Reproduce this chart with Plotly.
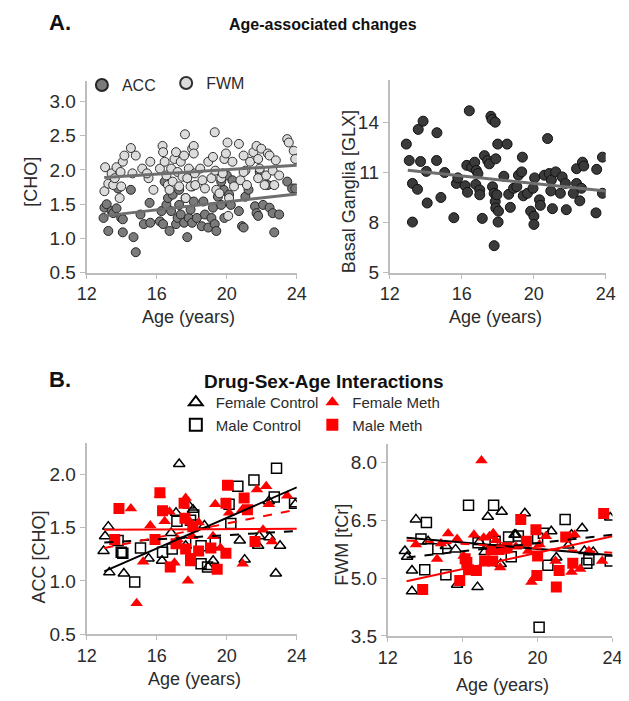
import plotly.graph_objects as go

# ---------------- Panel A (left): [CHO] vs age ----------------
acc_age = [12.96, 13.01, 13.14, 13.23, 13.42, 13.51, 13.7, 13.79, 13.97, 14.06, 14.06, 14.52, 14.67, 14.8,
           15.07, 15.26, 15.59, 15.63, 16.18, 16.27, 16.36, 16.45, 16.55, 16.64, 16.73, 16.82, 16.91, 17.1,
           17.19, 17.28, 17.37, 17.56, 17.65, 17.74, 17.83, 17.93, 18.02, 18.11, 18.29, 18.57, 18.66, 18.75,
           18.94, 19.12, 19.21, 19.31, 19.4, 19.49, 19.68, 19.82, 19.86, 20.0, 20.13, 20.23, 20.32, 20.69,
           20.87, 20.96, 21.06, 21.24, 21.61, 21.7, 21.79, 21.88, 22.07, 22.34, 22.44, 22.62, 22.71, 22.99,
           23.45, 23.73, 23.91, 19.68, 17.28, 18.02]
acc_cho = [1.30, 1.45, 1.50, 1.11, 1.40, 1.37, 1.44, 1.73, 1.30, 1.28, 1.09, 1.71, 1.02, 0.80,
           1.35, 1.21, 1.52, 1.23, 1.25, 1.40, 1.21, 1.83, 1.49, 1.59, 1.11, 1.40, 1.64, 1.21,
           1.30, 1.49, 1.35, 1.23, 1.59, 1.02, 1.30, 1.42, 1.23, 1.54, 1.30, 1.18, 1.54, 1.35,
           1.16, 1.30, 1.45, 1.21, 1.11, 1.61, 1.49, 1.71, 1.30, 1.92, 1.64, 1.49, 1.85, 1.40,
           1.18, 1.16, 1.61, 1.71, 1.47, 1.37, 1.33, 1.97, 1.49, 1.78, 1.45, 1.37, 1.09, 1.35,
           1.83, 1.73, 1.73, 1.83, 1.71, 1.76]
fwm_age = [13.01, 13.05, 13.23, 13.42, 13.51, 13.6, 13.7, 13.88, 13.93, 14.06, 14.15, 13.97, 14.52, 14.8,
           14.61, 15.17, 15.53, 15.63, 15.44, 15.81, 16.18, 16.33, 16.36, 16.45, 16.55, 16.64, 16.73, 16.82,
           16.91, 17.01, 17.1, 17.19, 17.28, 17.37, 17.47, 17.56, 17.61, 17.65, 17.74, 17.83, 17.93, 18.02,
           18.11, 18.11, 18.17, 18.2, 18.48, 18.61, 18.75, 18.94, 19.12, 19.21, 19.31, 19.34, 19.4, 19.58,
           19.68, 19.77, 19.86, 19.95, 20.04, 20.13, 20.08, 20.32, 20.41, 20.69, 20.78, 20.96, 21.06, 21.15,
           21.33, 21.52, 21.7, 21.79, 21.88, 21.79, 21.97, 22.16, 22.25, 22.34, 22.44, 22.62, 22.71, 22.8,
           22.99, 23.45, 23.54, 23.82, 23.91, 20.96]
fwm_cho = [1.69, 2.04, 1.80, 1.95, 1.78, 1.88, 2.04, 1.59, 1.97, 2.12, 2.21, 1.76, 2.32, 2.21,
           1.95, 2.02, 1.88, 2.12, 1.95, 1.71, 2.02, 2.35, 2.26, 2.12, 1.92, 1.78, 1.71, 2.02,
           1.83, 2.16, 2.26, 1.97, 1.76, 2.12, 1.90, 2.21, 2.52, 1.59, 1.88, 2.02, 1.76, 2.31,
           2.35, 2.24, 1.95, 1.78, 2.02, 1.85, 1.73, 2.12, 1.88, 2.19, 2.55, 1.99, 1.71, 1.66,
           1.88, 1.95, 2.16, 2.24, 2.40, 1.59, 1.33, 2.12, 1.76, 2.38, 1.85, 2.21, 1.99, 1.78,
           2.12, 2.26, 2.35, 2.16, 2.02, 1.88, 2.31, 1.78, 1.92, 2.24, 2.21, 1.99, 1.78, 2.14,
           1.92, 2.45, 2.40, 2.28, 2.16, 1.97]
fit_age = [13.0, 24.0]
acc_fit = [1.33, 1.65]
fwm_fit = [1.89, 2.07]

# ---------------- Panel A (right): Basal ganglia GLX ----------------
bg_age = [12.92, 13.08, 13.26, 13.54, 13.26, 13.58, 13.85, 13.71, 14.03, 14.08, 14.62, 14.6, 14.84, 15.05,
          15.56, 15.7, 15.78, 16.19, 16.32, 16.42, 16.28, 16.55, 16.72, 16.81, 16.9, 16.78, 17.0, 17.0,
          17.14, 17.26, 17.44, 17.53, 17.62, 17.68, 17.86, 17.71, 17.8, 17.86, 17.89, 17.95, 18.0, 17.89,
          18.02, 18.04, 17.8, 18.52, 18.34, 18.61, 18.7, 18.88, 19.06, 19.15, 19.33, 19.37, 19.42, 19.65,
          19.83, 20.01, 20.01, 19.96, 20.05, 20.32, 20.37, 20.59, 20.77, 20.86, 20.95, 20.98, 21.04, 21.22,
          21.48, 21.58, 21.76, 21.81, 22.2, 22.38, 22.38, 22.56, 22.65, 22.71, 22.78, 23.46, 23.5, 23.82,
          23.82]
bg_glx = [12.69, 11.71, 10.34, 9.99, 8.03, 13.57, 14.06, 11.65, 11.06, 9.17, 13.37, 11.71, 9.5, 10.99,
          8.29, 10.34, 10.67, 10.2, 9.81, 14.68, 11.42, 11.32, 11.61, 11.12, 10.93, 10.28, 9.95, 9.66,
          8.25, 12.0, 11.71, 11.51, 14.35, 14.16, 14.0, 10.14, 9.75, 9.26, 8.87, 9.66, 12.69, 11.81,
          8.03, 8.68, 6.62, 12.69, 10.77, 9.69, 8.91, 10.05, 10.14, 10.83, 11.03, 11.91, 9.6, 9.75,
          8.68, 8.38, 7.89, 10.05, 10.67, 9.36, 9.03, 10.83, 13.02, 10.93, 9.89, 10.54, 8.83, 11.03,
          9.75, 10.73, 10.34, 8.77, 9.75, 11.22, 10.34, 9.3, 10.05, 11.61, 11.38, 8.58, 11.18, 11.91,
          9.75]
bg_fit = [11.12, 9.89]

# ---------------- Panel B (left): ACC [CHO] by group ----------------
fc_age_acc = [12.96, 13.05, 13.23, 13.29, 14.12, 15.53, 16.3, 17.28, 17.1, 16.82, 17.83, 18.07, 17.65,
              18.72, 18.94, 19.22, 20.74, 21.02, 21.79, 21.85, 22.4, 22.44, 22.8, 23.04, 23.91]
fc_acc = [1.28, 1.42, 1.51, 1.08, 1.07, 1.21, 1.19, 2.10, 1.64, 1.45, 1.71, 1.67, 1.33,
          1.52, 1.13, 1.19, 1.38, 1.20, 1.33, 1.42, 1.75, 1.41, 1.07, 1.33, 1.72]
mc_age_acc = [13.79, 13.97, 14.06, 15.07, 14.74, 16.33, 16.88, 17.15, 17.65, 17.93, 18.11, 18.53, 18.53,
              19.34, 20.13, 20.23, 20.63, 21.55, 22.71, 22.84, 23.87, 18.9]
mc_acc = [1.38, 1.27, 1.26, 1.31, 0.99, 1.27, 1.30, 1.56, 1.36, 1.57, 1.62, 1.16, 1.33,
          1.36, 1.72, 1.54, 1.89, 1.95, 1.79, 2.06, 1.73, 1.13]
fm_age_acc = [14.52, 14.85, 15.22, 15.63, 16.18, 16.45, 16.73, 17.01, 17.19, 17.65, 17.78, 17.93, 18.39,
              19.34, 19.64, 20.13, 20.88, 20.91, 21.72, 22.25, 22.4, 22.58, 23.45, 22.07, 19.21, 18.02]
fm_acc = [1.68, 0.79, 1.18, 1.52, 1.81, 1.56, 1.65, 1.17, 1.39, 1.78, 1.00, 1.55, 1.55,
          1.72, 1.31, 1.64, 1.67, 1.16, 1.86, 1.89, 1.72, 1.37, 1.80, 1.48, 1.42, 1.42]
mm_age_acc = [13.84, 13.6, 15.9, 16.18, 16.33, 16.77, 17.1, 17.61, 17.65, 17.93, 18.06, 17.93, 18.39,
              19.09, 19.45, 19.95, 19.95, 20.04, 20.99, 21.18, 21.61, 17.56]
mm_acc = [1.68, 1.39, 1.39, 1.83, 1.66, 1.13, 1.35, 1.59, 1.30, 1.21, 1.51, 1.19, 1.28,
          1.31, 1.11, 1.26, 1.73, 1.90, 1.78, 1.67, 1.37, 1.73]
fitb_age = [13.0, 24.0]
mc_acc_fit = [1.09, 1.88]
fc_acc_fit = [1.36, 1.47]
mm_acc_fit = [1.48, 1.49]
fm_acc_fit = [1.31, 1.67]

# ---------------- Panel B (right): FWM [tCr] by group ----------------
fc_age_fwm = [12.91, 13.03, 13.29, 13.29, 13.5, 14.15, 15.62, 15.7, 16.79, 16.88, 17.17, 17.34, 18.08,
              18.03, 18.77, 19.32, 20.73, 21.0, 21.64, 21.81, 22.38, 22.5, 22.97, 23.88, 18.84, 15.1]
fc_fwm = [5.71, 5.56, 5.20, 4.66, 6.53, 5.96, 5.75, 4.83, 4.77, 5.94, 5.68, 6.60, 6.73,
          5.37, 6.13, 6.69, 6.22, 5.54, 5.85, 6.13, 6.30, 5.71, 5.68, 6.58, 6.13, 5.84]
mc_age_fwm = [13.77, 13.97, 14.06, 14.67, 15.1, 16.31, 16.82, 17.65, 17.73, 18.45, 18.59, 18.97, 20.0,
              20.08, 20.31, 20.55, 21.47, 22.63, 22.74, 23.88]
mc_fwm = [6.02, 5.22, 6.45, 5.77, 5.09, 6.90, 5.92, 6.90, 5.96, 6.07, 5.56, 6.10, 6.04,
          3.73, 6.17, 5.34, 6.53, 5.39, 5.48, 5.45]
fm_age_fwm = [13.5, 14.84, 14.63, 15.22, 15.7, 16.05, 16.6, 17.0, 17.12, 17.43, 17.63, 17.77, 17.86,
              18.0, 18.2, 18.84, 19.67, 19.8, 20.1, 20.44, 20.96, 21.81, 21.98, 22.27, 23.45, 22.74, 19.5]
fm_fwm = [5.88, 5.90, 5.50, 6.16, 6.02, 5.58, 6.13, 8.06, 6.05, 6.09, 6.17, 5.99, 5.79,
          5.28, 5.71, 5.82, 4.90, 5.00, 5.88, 6.09, 5.45, 5.16, 6.13, 5.24, 5.45, 5.71, 5.71]
mm_age_fwm = [13.86, 15.84, 16.13, 16.31, 16.73, 17.17, 17.6, 17.94, 18.37, 19.1, 19.4, 19.91, 20.0,
              19.96, 21.0, 21.15, 21.5, 21.88, 23.53, 17.51, 16.22]
mm_fwm = [4.71, 4.94, 5.51, 5.22, 5.20, 5.45, 5.45, 5.75, 5.79, 6.53, 5.96, 6.26, 5.58,
          5.07, 4.77, 5.20, 6.07, 5.39, 6.68, 5.75, 5.41]
mc_fwm_fit = [6.05, 5.60]
fc_fwm_fit = [5.54, 6.13]
mm_fwm_fit = [4.92, 6.09]
fm_fwm_fit = [5.98, 5.66]

x_ticks = [12, 16, 20, 24]

FONT = "Liberation Sans, Arial, sans-serif"
TXT = "#2b2b2b"
AX = "#bdbdbd"
RED = "#ff0000"

fig = go.Figure()

# ---- A left
fig.add_trace(go.Scatter(x=acc_age, y=acc_cho, mode="markers", name="ACC", legend="legend",
                         marker=dict(size=9, color="#7b7b7b", line=dict(color="#262626", width=1)),
                         xaxis="x", yaxis="y"))
fig.add_trace(go.Scatter(x=fwm_age, y=fwm_cho, mode="markers", name="FWM", legend="legend2",
                         marker=dict(size=9, color="#dcdcdc", line=dict(color="#303030", width=1)),
                         xaxis="x", yaxis="y"))
for f in (acc_fit, fwm_fit):
    fig.add_trace(go.Scatter(x=fit_age, y=f, mode="lines", showlegend=False,
                             line=dict(color="#6e6e6e", width=3), xaxis="x", yaxis="y"))

# ---- A right
fig.add_trace(go.Scatter(x=bg_age, y=bg_glx, mode="markers", showlegend=False,
                         marker=dict(size=10, color="#3a3a3a", line=dict(color="#111111", width=1)),
                         xaxis="x2", yaxis="y2"))
fig.add_trace(go.Scatter(x=fit_age, y=bg_fit, mode="lines", showlegend=False,
                         line=dict(color="#6e6e6e", width=3), xaxis="x2", yaxis="y2"))

# ---- B groups
groups = [
    ("Female Control", "triangle-up-open", "black", "legend3", fc_age_acc, fc_acc, fc_age_fwm, fc_fwm),
    ("Male Control", "square-open", "black", "legend3", mc_age_acc, mc_acc, mc_age_fwm, mc_fwm),
    ("Female Meth", "triangle-up", RED, "legend4", fm_age_acc, fm_acc, fm_age_fwm, fm_fwm),
    ("Male Meth", "square", RED, "legend4", mm_age_acc, mm_acc, mm_age_fwm, mm_fwm),
]
for name, sym, col, lg, xa, ya, xb, yb in groups:
    open_sym = sym.endswith("open")
    mk = dict(symbol=sym, size=10 if open_sym else 11, color=col,
              line=dict(color=col, width=1.5) if open_sym else dict(width=0))
    fig.add_trace(go.Scatter(x=xa, y=ya, mode="markers", name=name, legend=lg, marker=mk,
                             xaxis="x3", yaxis="y3"))
    fig.add_trace(go.Scatter(x=xb, y=yb, mode="markers", name=name, showlegend=False, marker=mk,
                             xaxis="x4", yaxis="y4"))

fits = [
    (mc_acc_fit, mc_fwm_fit, "black", "solid"),
    (fc_acc_fit, fc_fwm_fit, "black", "dash"),
    (mm_acc_fit, mm_fwm_fit, RED, "solid"),
    (fm_acc_fit, fm_fwm_fit, RED, "dash"),
]
for fa, fb, col, dash in fits:
    fig.add_trace(go.Scatter(x=fitb_age, y=fa, mode="lines", showlegend=False,
                             line=dict(color=col, width=2, dash=dash), xaxis="x3", yaxis="y3"))
    fig.add_trace(go.Scatter(x=fitb_age, y=fb, mode="lines", showlegend=False,
                             line=dict(color=col, width=2, dash=dash), xaxis="x4", yaxis="y4"))

W, H = 629, 701


def px(v):
    return v / W


def py(v):
    return 1 - v / H


def xax(d0, d1, anchor):
    return dict(domain=[px(d0), px(d1)], range=[12, 24], tickvals=x_ticks, anchor=anchor,
                showline=True, linecolor=AX, linewidth=2, ticks="outside", ticklen=4, tickcolor=AX,
                showgrid=False, zeroline=False, tickfont=dict(family=FONT, size=18, color=TXT))


def yax(d0, d1, rng, tv, fmt, anchor):
    return dict(domain=[py(d1), py(d0)], range=rng, tickvals=tv, tickformat=fmt, anchor=anchor,
                showline=True, linecolor=AX, linewidth=2, ticks="outside", ticklen=5, tickcolor=AX,
                showgrid=False, zeroline=False, tickfont=dict(family=FONT, size=19, color=TXT))


def leg(x, y, size):
    return dict(x=px(x), y=py(y), font=dict(family=FONT, size=size, color=TXT),
                bgcolor="rgba(0,0,0,0)", itemsizing="constant", xanchor="left", yanchor="top",
                tracegroupgap=0)


fig.update_layout(
    width=W, height=H, margin=dict(l=0, r=0, t=0, b=0),
    paper_bgcolor="white", plot_bgcolor="white",
    xaxis=xax(71, 288, "y"),
    yaxis=yax(74, 269, [0.5, 3.3], [0.5, 1.0, 1.5, 2.0, 2.5, 3.0], ".1f", "x"),
    xaxis2=xax(384, 607, "y2"),
    yaxis2=yax(73.5, 269, [5, 16.5], [5, 8, 11, 14], "d", "x2"),
    xaxis3=xax(71, 288, "y3"),
    yaxis3=yax(441.6, 636, [0.5, 2.3], [0.5, 1.0, 1.5, 2.0], ".1f", "x3"),
    xaxis4=xax(382, 614, "y4"),
    yaxis4=yax(442.5, 638, [3.5, 8.5], [3.5, 5.0, 6.5, 8.0], ".1f", "x4"),
    legend=leg(66, 61, 16),
    legend2=leg(153, 59, 16),
    legend3=leg(163, 384, 15),
    legend4=leg(304, 384, 15),
    showlegend=True,
)

ann = [
    dict(text="<b>A.</b>", x=px(43), y=py(15), size=22),
    dict(text="<b>Age-associated changes</b>", x=px(315), y=py(17), size=16),
    dict(text="<b>B.</b>", x=px(43), y=py(377), size=22),
    dict(text="<b>Drug-Sex-Age Interactions</b>", x=px(316), y=py(379), size=19),
    dict(text="Age (years)", x=px(176), y=py(314), size=18),
    dict(text="Age (years)", x=px(493), y=py(314), size=18),
    dict(text="Age (years)", x=px(182), y=py(682), size=18),
    dict(text="Age (years)", x=px(500), y=py(688), size=18),
    dict(text="[CHO]", x=px(14), y=py(177), size=18, angle=-90),
    dict(text="Basal Ganglia [GLX]", x=px(342), y=py(187), size=18, angle=-90),
    dict(text="ACC [CHO]", x=px(22), y=py(558), size=18, angle=-90),
    dict(text="FWM [tCr]", x=px(335), y=py(545), size=18, angle=-90),
]
for a in ann:
    fig.add_annotation(text=a["text"], x=a["x"], y=a["y"], xref="paper", yref="paper",
                       xanchor="center", yanchor="middle", showarrow=False,
                       textangle=a.get("angle", 0),
                       font=dict(family=FONT, size=a["size"], color="#111111" if "<b>" in a["text"] else TXT))

fig.write_html("out.html")
